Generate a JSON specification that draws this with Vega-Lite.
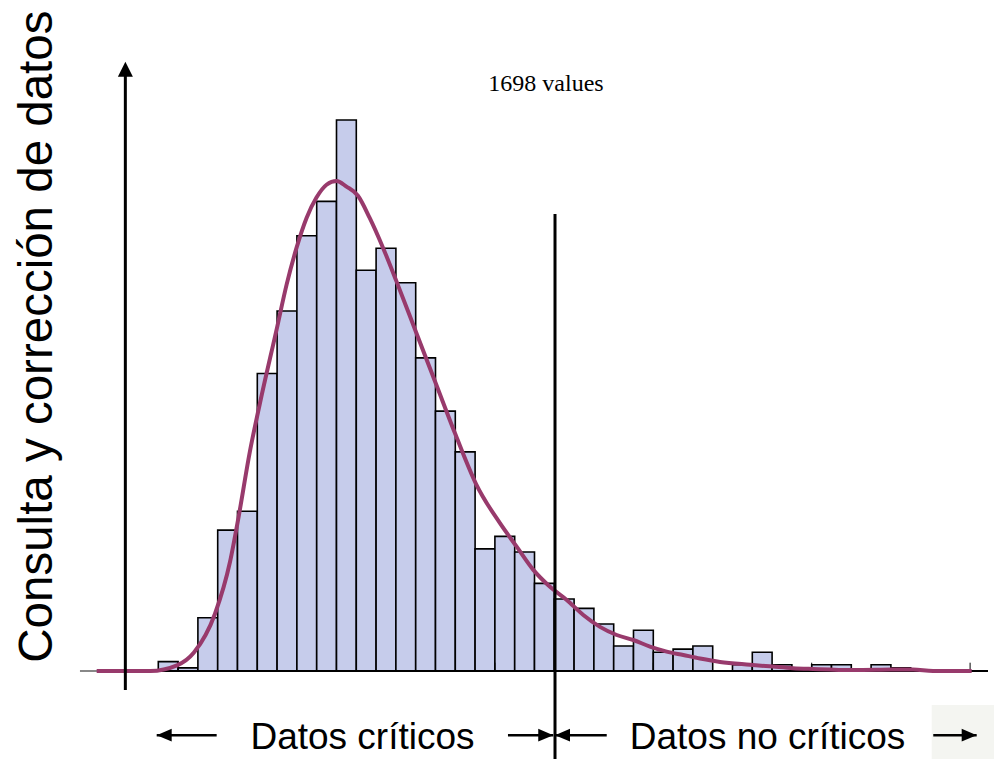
{
  "$schema": "https://vega.github.io/schema/vega-lite/v6.json",
  "width": 994,
  "height": 671,
  "autosize": {"type": "none"},
  "padding": {"left": 0, "top": 0, "right": 0, "bottom": 88},
  "background": "#ffffff",
  "config": {"view": {"stroke": null}},
  "datasets": {
    "bins": [
      {"start": -2.25, "end": -2.0, "count": 3},
      {"start": -2.0, "end": -1.75, "count": 1},
      {"start": -1.75, "end": -1.5, "count": 17},
      {"start": -1.5, "end": -1.25, "count": 45},
      {"start": -1.25, "end": -1.0, "count": 51},
      {"start": -1.0, "end": -0.75, "count": 95},
      {"start": -0.75, "end": -0.5, "count": 115},
      {"start": -0.5, "end": -0.25, "count": 139},
      {"start": -0.25, "end": 0.0, "count": 150},
      {"start": 0.0, "end": 0.25, "count": 176},
      {"start": 0.25, "end": 0.5, "count": 128},
      {"start": 0.5, "end": 0.75, "count": 135},
      {"start": 0.75, "end": 1.0, "count": 124},
      {"start": 1.0, "end": 1.25, "count": 100},
      {"start": 1.25, "end": 1.5, "count": 83},
      {"start": 1.5, "end": 1.75, "count": 70},
      {"start": 1.75, "end": 2.0, "count": 39},
      {"start": 2.0, "end": 2.25, "count": 43},
      {"start": 2.25, "end": 2.5, "count": 38},
      {"start": 2.5, "end": 2.75, "count": 28},
      {"start": 2.75, "end": 3.0, "count": 23},
      {"start": 3.0, "end": 3.25, "count": 20},
      {"start": 3.25, "end": 3.5, "count": 15},
      {"start": 3.5, "end": 3.75, "count": 8},
      {"start": 3.75, "end": 4.0, "count": 13},
      {"start": 4.0, "end": 4.25, "count": 6},
      {"start": 4.25, "end": 4.5, "count": 7},
      {"start": 4.5, "end": 4.75, "count": 8},
      {"start": 5.0, "end": 5.25, "count": 2},
      {"start": 5.25, "end": 5.5, "count": 6},
      {"start": 5.5, "end": 5.75, "count": 2},
      {"start": 5.75, "end": 6.0, "count": 1},
      {"start": 6.0, "end": 6.25, "count": 2},
      {"start": 6.25, "end": 6.5, "count": 2},
      {"start": 6.75, "end": 7.0, "count": 2},
      {"start": 7.0, "end": 7.25, "count": 1}
    ],
    "curve": [
      {"x": -3.028, "d": 0},
      {"x": -2.35, "d": 0},
      {"x": -2.014, "d": 1.8},
      {"x": -1.8, "d": 5.9},
      {"x": -1.534, "d": 18.3},
      {"x": -1.345, "d": 34.8},
      {"x": -1.237, "d": 49.1},
      {"x": -1.092, "d": 70.3},
      {"x": -0.966, "d": 85.6},
      {"x": -0.755, "d": 109.2},
      {"x": -0.63, "d": 123.4},
      {"x": -0.504, "d": 135.2},
      {"x": -0.378, "d": 144.7},
      {"x": -0.253, "d": 151.2},
      {"x": -0.126, "d": 155.3},
      {"x": 0.0, "d": 156.5},
      {"x": 0.126, "d": 154.7},
      {"x": 0.271, "d": 151.8},
      {"x": 0.419, "d": 144.7},
      {"x": 0.587, "d": 135.2},
      {"x": 0.755, "d": 124.6},
      {"x": 1.006, "d": 108.1},
      {"x": 1.259, "d": 91.5},
      {"x": 1.509, "d": 75.1},
      {"x": 1.761, "d": 59.8},
      {"x": 2.064, "d": 47.2},
      {"x": 2.275, "d": 39.7},
      {"x": 2.485, "d": 32.3},
      {"x": 2.696, "d": 26.9},
      {"x": 2.907, "d": 22.7},
      {"x": 3.116, "d": 17.9},
      {"x": 3.327, "d": 14.1},
      {"x": 3.538, "d": 11.5},
      {"x": 3.747, "d": 9.9},
      {"x": 3.958, "d": 7.8},
      {"x": 4.169, "d": 6.2},
      {"x": 4.379, "d": 5.1},
      {"x": 4.59, "d": 4.0},
      {"x": 4.842, "d": 2.9},
      {"x": 5.221, "d": 2.0},
      {"x": 5.511, "d": 1.4},
      {"x": 5.764, "d": 0.9},
      {"x": 6.016, "d": 0.64},
      {"x": 6.521, "d": 0.3},
      {"x": 7.0, "d": 0.44},
      {"x": 7.279, "d": 0.5},
      {"x": 7.532, "d": 0},
      {"x": 8.02, "d": 0}
    ],
    "ticks": [{"v": -2}, {"v": 0}, {"v": 2}, {"v": 4}, {"v": 6}, {"v": 8}],
    "vlines": [
      {"x": -2.666, "y1": -6.07, "y2": 190.4},
      {"x": 2.759, "y1": -28.6, "y2": 146.0}
    ],
    "arrows": [
      {"tail": -1.513, "tip": -2.27, "y": -20.5, "dir": "left"},
      {"tail": 2.165, "tip": 2.737, "y": -20.5, "dir": "right"},
      {"tail": 3.412, "tip": 2.759, "y": -20.5, "dir": "left"},
      {"tail": 7.535, "tip": 8.083, "y": -20.5, "dir": "right"}
    ],
    "heads": [
      {"x": -2.27, "y": -20.5, "dir": "left"},
      {"x": 2.737, "y": -20.5, "dir": "right"},
      {"x": 2.759, "y": -20.5, "dir": "left"},
      {"x": 8.083, "y": -20.5, "dir": "right"},
      {"x": -2.666, "y": 194.6, "dir": "up"}
    ],
    "labels": [
      {"x": 0.328, "y": -24.9, "text": "Datos críticos"},
      {"x": 5.442, "y": -24.9, "text": "Datos no críticos"}
    ]
  },
  "layer": [
    {
      "data": {"values": [{"x1": 7.515, "x2": 8.31, "y1": -10.86, "y2": -28.6}]},
      "mark": {"type": "rect", "color": "#f4f5f1"},
      "encoding": {
        "x": {"field": "x1", "type": "quantitative", "scale": {"domain": [-4.2487, 8.3018], "nice": false, "zero": false}, "axis": null},
        "x2": {"field": "x2"},
        "y": {"field": "y1", "type": "quantitative", "scale": {"domain": [0, 214.31], "nice": false, "zero": false}, "axis": null},
        "y2": {"field": "y2"}
      }
    },
    {
      "data": {"name": "bins"},
      "mark": {"type": "rect", "fill": "#c6cceb", "stroke": "#000000", "strokeWidth": 1.6},
      "encoding": {
        "x": {"field": "start", "type": "quantitative", "title": null,
          "axis": {"values": [-2, 0, 2, 4, 6, 8], "ticks": false, "domain": false, "grid": false,
            "labelFont": "Liberation Serif", "labelFontSize": 19, "labelColor": "#000000",
            "labelPadding": 8, "labelFlush": false, "labelOverlap": false,
            "labelExpr": "datum.value < 0 ? '- ' + abs(datum.value) : datum.label"}},
        "x2": {"field": "end"},
        "y": {"field": "count", "type": "quantitative", "axis": null},
        "y2": {"datum": 0}
      }
    },
    {
      "data": {"values": [{"x1": -3.0, "x2": 8.226}]},
      "mark": {"type": "rule", "color": "#000000", "strokeWidth": 2},
      "encoding": {
        "x": {"field": "x1", "type": "quantitative", "axis": null},
        "x2": {"field": "x2"},
        "y": {"datum": 0, "type": "quantitative", "axis": null}
      }
    },
    {
      "data": {"values": [{"x1": -3.239, "x2": -3.0}]},
      "mark": {"type": "rule", "color": "#888888", "strokeWidth": 2},
      "encoding": {
        "x": {"field": "x1", "type": "quantitative", "axis": null},
        "x2": {"field": "x2"},
        "y": {"datum": 0, "type": "quantitative", "axis": null}
      }
    },
    {
      "data": {"name": "ticks"},
      "mark": {"type": "rule", "color": "#000000", "strokeWidth": 1},
      "encoding": {
        "x": {"field": "v", "type": "quantitative", "axis": null},
        "y": {"datum": 0, "type": "quantitative", "axis": null},
        "y2": {"datum": 2.65}
      }
    },
    {
      "data": {"name": "curve"},
      "mark": {"type": "line", "interpolate": "monotone", "color": "#983a6c", "strokeWidth": 4},
      "encoding": {
        "x": {"field": "x", "type": "quantitative", "axis": null},
        "y": {"field": "d", "type": "quantitative", "axis": null}
      }
    },
    {
      "data": {"name": "vlines"},
      "mark": {"type": "rule", "color": "#000000", "strokeWidth": 3},
      "encoding": {
        "x": {"field": "x", "type": "quantitative", "axis": null},
        "y": {"field": "y1", "type": "quantitative", "axis": null},
        "y2": {"field": "y2"}
      }
    },
    {
      "data": {"name": "arrows"},
      "mark": {"type": "rule", "color": "#000000", "strokeWidth": 2.5},
      "encoding": {
        "x": {"field": "tail", "type": "quantitative", "axis": null},
        "x2": {"field": "tip"},
        "y": {"field": "y", "type": "quantitative", "axis": null}
      }
    },
    {
      "data": {"name": "heads"},
      "mark": {"type": "point", "filled": true, "color": "#000000", "opacity": 1, "strokeWidth": 0, "size": 225},
      "encoding": {
        "x": {"field": "x", "type": "quantitative", "axis": null},
        "y": {"field": "y", "type": "quantitative", "axis": null},
        "shape": {"field": "dir", "type": "nominal", "legend": null,
          "scale": {"domain": ["left", "right", "up"],
            "range": ["M0,0L2,-0.85L2,0.85Z", "M0,0L-2,-0.85L-2,0.85Z", "M0,0L-1,2L1,2Z"]}}
      }
    },
    {
      "data": {"name": "labels"},
      "mark": {"type": "text", "font": "Liberation Sans", "fontSize": 37, "color": "#000000", "align": "center", "baseline": "alphabetic"},
      "encoding": {
        "x": {"field": "x", "type": "quantitative", "axis": null},
        "y": {"field": "y", "type": "quantitative", "axis": null},
        "text": {"field": "text"}
      }
    },
    {
      "data": {"values": [{"x": 2.645, "y": 187.5, "text": "1698 values"}]},
      "mark": {"type": "text", "font": "Liberation Serif", "fontSize": 24, "color": "#000000", "align": "center", "baseline": "middle"},
      "encoding": {
        "x": {"field": "x", "type": "quantitative", "axis": null},
        "y": {"field": "y", "type": "quantitative", "axis": null},
        "text": {"field": "text"}
      }
    },
    {
      "data": {"values": [{"x": -3.592, "y": 106.8, "text": "Consulta y corrección de datos"}]},
      "mark": {"type": "text", "font": "Liberation Sans", "fontSize": 47.5, "color": "#000000", "align": "center", "baseline": "alphabetic", "angle": 270},
      "encoding": {
        "x": {"field": "x", "type": "quantitative", "axis": null},
        "y": {"field": "y", "type": "quantitative", "axis": null},
        "text": {"field": "text"}
      }
    }
  ]
}
